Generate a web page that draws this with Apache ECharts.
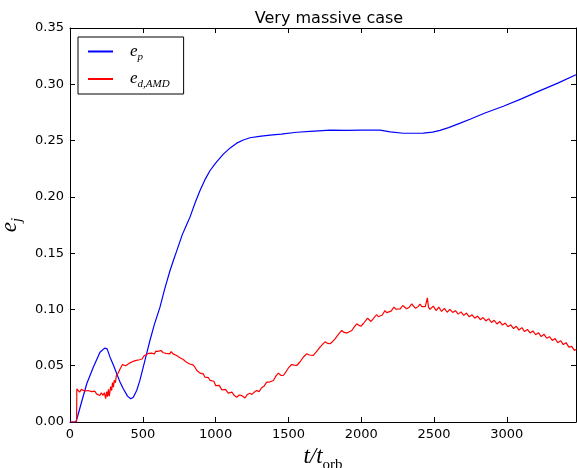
<!DOCTYPE html>
<html>
<head>
<meta charset="utf-8">
<script src="https://cdn.jsdelivr.net/npm/echarts@6/dist/echarts.min.js"></script>
<style>html,body{margin:0;padding:0;background:#fff;}#c{width:577px;height:468px;}</style>
</head>
<body>
<div id="c"></div>
<script>
// ---- data ----
const xTicks = [0, 500, 1000, 1500, 2000, 2500, 3000];
const yTicks = [0.00, 0.05, 0.10, 0.15, 0.20, 0.25, 0.30, 0.35];

const blueT = [0,40,50,80,115,160,206,238,255,275,300,321,345,366,395,417,435,458,480,503,525,549,580,618,650,687,710,733,770,800,824,860,893,930,962,1000,1053,1100,1145,1190,1236,1300,1374,1450,1557,1650,1786,1900,2000,2129,2200,2289,2427,2490,2541,2600,2680,2747,2850,2976,3100,3205,3350,3475];
const blueE = [0,0,0.004,0.018,0.034,0.0487,0.062,0.0656,0.065,0.0576,0.05,0.0428,0.035,0.0295,0.023,0.0206,0.022,0.028,0.037,0.0487,0.06,0.0724,0.087,0.102,0.118,0.1346,0.1435,0.152,0.166,0.175,0.182,0.195,0.2056,0.216,0.2234,0.23,0.238,0.2435,0.2477,0.2505,0.2525,0.2538,0.2548,0.2558,0.2574,0.2582,0.2592,0.259,0.2593,0.2592,0.2578,0.2565,0.2566,0.2575,0.259,0.2615,0.2655,0.269,0.2745,0.2805,0.287,0.293,0.301,0.3085];

const redT = [0,45,47,55,66,78,89,100,112,124,136,148,158,170,182,192,205,215,227,236,245,252,258,264,270,279,286,292,298,304,312,318,325,333,341,350,360,371,382,394,410,433,455,478,495,510,524,540,548,559,570,580,590,604,615,625,640,650,660,673,685,695,708,719,732,745,755,765,778,790,800,810,822,835,845,858,870,880,893,905,915,927,940,950,962,975,988,1000,1012,1025,1042,1055,1068,1087,1100,1112,1125,1145,1162,1179,1190,1202,1218,1236,1250,1265,1282,1298,1316,1330,1351,1370,1382,1397,1415,1431,1448,1465,1480,1500,1522,1540,1557,1580,1605,1626,1645,1671,1690,1720,1751,1770,1786,1800,1820,1845,1866,1880,1900,1915,1935,1950,1969,1985,1999,2015,2044,2055,2067,2085,2106,2118,2129,2145,2163,2175,2186,2205,2225,2238,2251,2268,2285,2298,2312,2330,2347,2360,2374,2390,2404,2416,2427,2440,2454,2462,2472,2484,2495,2514,2533,2552,2571,2590,2609,2628,2647,2666,2685,2704,2723,2742,2761,2780,2799,2818,2837,2856,2875,2894,2913,2932,2951,2970,2989,3008,3027,3046,3065,3084,3103,3122,3141,3160,3179,3198,3217,3236,3255,3274,3293,3312,3331,3350,3369,3388,3407,3426,3445,3464,3475];
const redE = [0,0,0.0295,0.0285,0.0265,0.029,0.0285,0.0275,0.029,0.028,0.0285,0.027,0.0265,0.0275,0.025,0.0255,0.0235,0.026,0.0237,0.026,0.0207,0.027,0.0225,0.029,0.023,0.0315,0.028,0.035,0.031,0.037,0.035,0.041,0.0405,0.044,0.0464,0.0475,0.051,0.0523,0.05,0.0508,0.0525,0.0538,0.0548,0.0553,0.056,0.059,0.0597,0.061,0.0595,0.0612,0.062,0.0605,0.063,0.0627,0.061,0.0635,0.0615,0.063,0.061,0.0627,0.0605,0.0625,0.0605,0.0612,0.059,0.06,0.057,0.0583,0.0555,0.0565,0.053,0.0538,0.0515,0.052,0.0508,0.0487,0.046,0.0465,0.0434,0.0425,0.0428,0.0398,0.039,0.0395,0.0369,0.036,0.0362,0.0324,0.0318,0.0325,0.0286,0.0285,0.029,0.0256,0.0262,0.0265,0.024,0.022,0.024,0.0235,0.0225,0.0213,0.0245,0.0256,0.0245,0.0265,0.028,0.027,0.0304,0.0315,0.0354,0.0355,0.0345,0.0369,0.041,0.0434,0.0415,0.0413,0.044,0.048,0.0511,0.0505,0.0502,0.0535,0.058,0.0606,0.0595,0.0591,0.062,0.067,0.0712,0.0698,0.0695,0.071,0.0739,0.078,0.0813,0.0798,0.079,0.08,0.0813,0.084,0.0872,0.0858,0.0851,0.0875,0.0922,0.0905,0.0893,0.092,0.0955,0.0935,0.0922,0.095,0.099,0.0972,0.096,0.0985,0.102,0.1002,0.099,0.1005,0.1035,0.1018,0.1006,0.102,0.105,0.1028,0.101,0.1025,0.1047,0.1025,0.101,0.1025,0.1103,0.102,0.1,0.1015,0.1029,0.099,0.102,0.0982,0.101,0.0975,0.1,0.0973,0.0989,0.0958,0.0978,0.0947,0.0968,0.0934,0.0952,0.0922,0.0941,0.0909,0.0928,0.0898,0.0918,0.0884,0.0904,0.0871,0.0893,0.0861,0.0879,0.0846,0.0863,0.083,0.085,0.0817,0.0838,0.0803,0.0822,0.0791,0.0809,0.0775,0.0794,0.0758,0.078,0.0744,0.0758,0.0725,0.0741,0.0704,0.0723,0.0688,0.0705,0.0665,0.0672,0.0636,0.0645];

const seriesNames = ['e_p', 'e_d,AMD'];
// ---------------------------------------

const blueData = blueT.map((t, i) => [t, blueE[i]]);
const redData = redT.map((t, i) => [t, redE[i]]);

const serif = 'Liberation Serif';
const sans = 'DejaVu Sans';

const axisLine = { show: true, onZero: false, lineStyle: { color: '#000', width: 1 } };
const tick = { show: true, inside: true, length: 5, lineStyle: { color: '#000', width: 1 } };

const chart = echarts.init(document.getElementById('c'), null, { renderer: 'canvas' });
chart.setOption({
  animation: false,
  backgroundColor: '#fff',
  title: {
    text: 'Very massive case',
    left: 324, top: 6, textAlign: 'center',
    textStyle: { fontFamily: sans, fontSize: 16, fontWeight: 'normal', color: '#000' }
  },
  grid: { left: 70, right: 1, top: 28, bottom: 46, containLabel: false, outerBoundsMode: 'none' },
  legend: {
    orient: 'vertical',
    left: 78, top: 37,
    padding: [6, 14, 4, 10],
    itemGap: 8,
    itemWidth: 25, itemHeight: 2,
    icon: 'rect',
    borderColor: '#000', borderWidth: 1, borderRadius: 0,
    backgroundColor: '#fff',
    data: seriesNames,
    formatter: function (name) {
      if (name === 'e_p') return '{m|e}{s|p}';
      return '{m|e}{s|d,AMD}';
    },
    textStyle: {
      padding: [0, 0, 0, 12],
      rich: {
        m: { fontFamily: serif, fontStyle: 'italic', fontSize: 17, lineHeight: 22, color: '#000' },
        s: { fontFamily: serif, fontStyle: 'italic', fontSize: 11, lineHeight: 22, verticalAlign: 'bottom', padding: [8, 0, 0, 0], color: '#000' }
      }
    }
  },
  xAxis: [
    {
      type: 'value', min: 0, max: 3475, interval: 500,
      axisLine: axisLine, axisTick: tick, splitLine: { show: false },
      axisLabel: { showMaxLabel: false, fontFamily: sans, fontSize: 13, color: '#000', margin: 6, formatter: v => String(v) },
      name: '{i|t/t}{s|orb}',
      nameLocation: 'middle', nameGap: 17,
      nameTextStyle: {
        rich: {
          i: { fontFamily: serif, fontStyle: 'italic', fontSize: 23, lineHeight: 30, color: '#000' },
          s: { fontFamily: serif, fontSize: 15, lineHeight: 30, verticalAlign: 'bottom', padding: [10, 0, 0, 0], color: '#000' }
        }
      }
    },
    {
      type: 'value', min: 0, max: 3475, interval: 500, position: 'top',
      axisLine: axisLine, axisTick: tick, splitLine: { show: false },
      axisLabel: { show: false }
    }
  ],
  yAxis: [
    {
      type: 'value', min: 0, max: 0.35, interval: 0.05,
      axisLine: axisLine, axisTick: tick, splitLine: { show: false },
      axisLabel: { fontFamily: sans, fontSize: 13, color: '#000', margin: 6, formatter: v => v.toFixed(2) },
      name: '{i|e}{s|j}',
      nameLocation: 'middle', nameGap: 45, nameRotate: 90,
      nameTextStyle: {
        rich: {
          i: { fontFamily: serif, fontStyle: 'italic', fontSize: 23, lineHeight: 28, color: '#000' },
          s: { fontFamily: serif, fontStyle: 'italic', fontSize: 15, lineHeight: 28, verticalAlign: 'bottom', padding: [9, 0, 0, 0], color: '#000' }
        }
      }
    },
    {
      type: 'value', min: 0, max: 0.35, interval: 0.05, position: 'right',
      axisLine: axisLine, axisTick: tick, splitLine: { show: false },
      axisLabel: { show: false }
    }
  ],
  series: [
    {
      name: seriesNames[0], type: 'line', data: blueData,
      xAxisIndex: 0, yAxisIndex: 0,
      showSymbol: false, symbol: 'none',
      lineStyle: { color: '#0000ff', width: 1.2 }, itemStyle: { color: '#0000ff' }
    },
    {
      name: seriesNames[1], type: 'line', data: redData,
      xAxisIndex: 0, yAxisIndex: 0,
      showSymbol: false, symbol: 'none',
      lineStyle: { color: '#ff0000', width: 1.2 }, itemStyle: { color: '#ff0000' }
    }
  ]
});
</script>
</body>
</html>
